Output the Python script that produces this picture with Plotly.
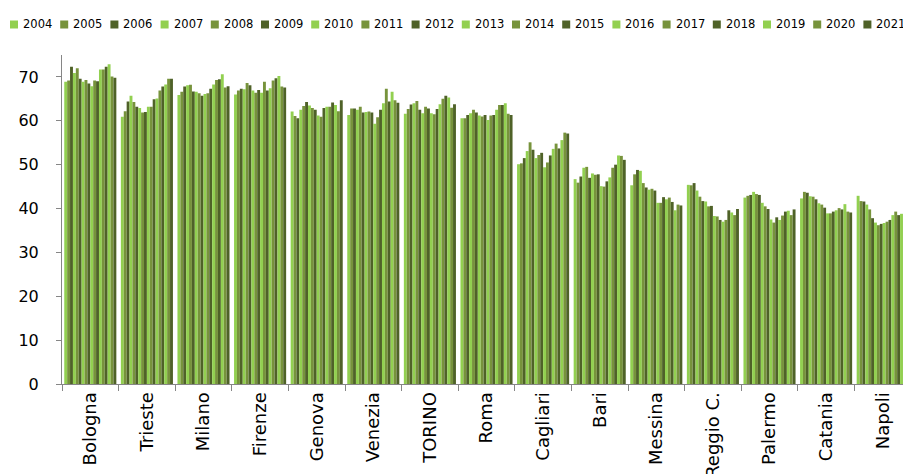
import plotly.graph_objects as go

years = [str(y) for y in range(2004, 2022)]
cities = ["Bologna", "Trieste", "Milano", "Firenze", "Genova", "Venezia", "TORINO", "Roma",
          "Cagliari", "Bari", "Messina", "Reggio C.", "Palermo", "Catania", "Napoli"]

# one list per city, values for 2004..2021
bologna = [68.9, 69.2, 72.3, 70.9, 72.0, 69.6, 68.9, 69.3, 68.5, 67.9, 69.2, 69.0, 71.7, 71.7, 72.3, 72.9, 70.1, 69.8]
trieste = [60.9, 62.2, 64.4, 65.7, 64.3, 63.2, 62.9, 61.9, 62.0, 63.2, 63.2, 64.9, 65.1, 66.9, 67.8, 68.3, 69.6, 69.6]
milano = [65.9, 66.6, 67.8, 68.1, 68.2, 66.7, 66.6, 66.3, 65.7, 66.1, 66.3, 67.3, 68.3, 69.3, 69.5, 70.6, 67.6, 67.9]
firenze = [66.0, 66.9, 67.3, 67.2, 68.6, 68.1, 66.9, 66.4, 67.0, 66.4, 68.9, 66.9, 67.4, 69.2, 69.7, 70.2, 67.8, 67.6]
genova = [62.1, 61.1, 60.6, 62.5, 63.4, 64.3, 63.5, 62.9, 62.5, 61.2, 60.9, 62.9, 63.2, 63.2, 64.2, 63.6, 62.2, 64.7]
venezia = [61.3, 62.8, 62.8, 62.5, 63.2, 61.9, 62.0, 62.1, 61.9, 59.3, 60.8, 62.5, 64.0, 67.3, 64.4, 66.6, 64.7, 64.1]
torino = [61.6, 62.7, 63.7, 64.0, 64.5, 62.5, 61.7, 63.2, 62.8, 61.7, 61.5, 62.7, 63.8, 65.0, 65.7, 65.3, 63.0, 63.8]
roma = [60.6, 60.6, 61.3, 61.7, 62.5, 61.9, 61.2, 61.0, 61.3, 60.2, 61.2, 61.3, 62.5, 63.6, 63.6, 64.0, 61.6, 61.3]
cagliari = [50.1, 50.3, 51.5, 53.1, 55.1, 53.4, 51.5, 52.2, 52.7, 49.4, 50.5, 52.1, 53.6, 54.8, 53.7, 55.6, 57.3, 57.1]
bari = [46.7, 45.9, 47.3, 49.3, 49.5, 47.0, 48.0, 47.7, 47.8, 45.1, 45.0, 46.2, 47.1, 49.3, 50.0, 52.1, 52.0, 51.1]
messina = [45.3, 47.8, 48.8, 48.6, 45.8, 44.8, 44.3, 44.5, 44.1, 41.3, 41.3, 42.6, 42.1, 42.5, 41.5, 39.6, 40.9, 40.7]
reggio = [45.4, 45.3, 45.8, 44.1, 42.7, 41.7, 41.6, 40.5, 40.6, 38.3, 38.2, 37.4, 37.0, 37.4, 39.6, 39.1, 38.5, 39.9]
palermo = [42.5, 42.9, 43.1, 43.8, 43.3, 43.1, 41.3, 40.5, 39.9, 37.5, 36.8, 38.0, 37.4, 38.4, 39.3, 39.5, 38.5, 39.8]
catania = [42.3, 43.8, 43.6, 42.8, 42.7, 42.1, 41.2, 40.9, 40.2, 38.9, 38.9, 39.3, 39.6, 40.1, 39.8, 41.0, 39.3, 39.1]
napoli = [42.9, 41.7, 41.6, 40.9, 39.8, 37.8, 36.8, 36.2, 36.5, 36.7, 37.0, 37.4, 38.5, 39.3, 38.5, 38.8, 37.2, 37.4]

by_city = [bologna, trieste, milano, firenze, genova, venezia, torino, roma,
           cagliari, bari, messina, reggio, palermo, catania, napoli]

colors = ["#92D050", "#77933C", "#4F6228"]
FONT = "DejaVu Sans"

# page body has an 8px margin, so the figure is a bit smaller than the window
OFF = 8
W, H = 911 - OFF, 474 - OFF
ML, MR, MT, MB = 62 - OFF, 0, 55 - OFF, 90
pw = W - ML - MR
ph = H - MT - MB


# window pixel -> paper coords (legend only)
def px_x(x):
    return (x - OFF - ML) / pw


def px_y(y):
    return (H - MB - (y - OFF)) / ph


fig = go.Figure()
for i, yr in enumerate(years):
    fig.add_trace(go.Bar(
        x=cities,
        y=[vals[i] for vals in by_city],
        name=yr,
        marker_color=colors[i % 3],
        marker_line_width=0,
    ))

# legend: one row of small squares + labels
for i, yr in enumerate(years):
    x0 = 10 + 50.2 * i
    fig.add_shape(type="rect", xref="paper", yref="paper",
                  x0=px_x(x0), x1=px_x(x0 + 8), y0=px_y(28.5), y1=px_y(20.5),
                  fillcolor=colors[i % 3], line_width=0)
    fig.add_annotation(text=yr, xref="paper", yref="paper",
                       x=px_x(x0 + 12), y=px_y(24.5), xanchor="left", yanchor="middle",
                       borderpad=0, showarrow=False,
                       font=dict(family=FONT, size=11.5, color="#000000"))

fig.update_layout(
    width=W, height=H,
    margin=dict(l=ML, r=MR, t=MT, b=MB),
    barmode="group",
    bargap=0.08,
    bargroupgap=0,
    showlegend=False,
    plot_bgcolor="white",
    paper_bgcolor="white",
    font=dict(family=FONT, color="#000000"),
)
fig.update_xaxes(
    type="category", automargin=False,
    showline=True, linecolor="#868686", linewidth=1,
    ticks="outside", tickson="boundaries", ticklen=6, tickcolor="#868686",
    tickangle=-90, tickfont=dict(size=18),
    showgrid=False,
)
fig.update_yaxes(
    range=[0, 75], tickvals=[0, 10, 20, 30, 40, 50, 60, 70], automargin=False,
    showline=True, linecolor="#868686", linewidth=1,
    ticks="outside", ticklen=5, tickcolor="#868686",
    tickfont=dict(size=16), ticklabelstandoff=14,
    showgrid=False, zeroline=False,
)

fig.write_html("out.html")
